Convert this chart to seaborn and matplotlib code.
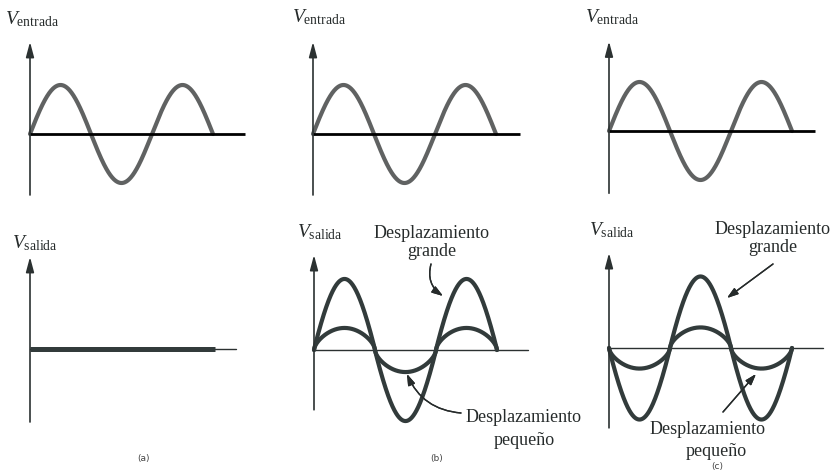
import numpy as np
import matplotlib
matplotlib.use("Agg")
import matplotlib.pyplot as plt
from matplotlib.transforms import Affine2D
import seaborn as sns

sns.set_theme(style="white")
plt.rcParams["font.family"] = ["Liberation Serif", "DejaVu Serif"]
plt.rcParams["mathtext.fontset"] = "custom"
plt.rcParams["mathtext.rm"] = "Liberation Serif"
plt.rcParams["mathtext.it"] = "Liberation Serif:italic"

# ---- signal parameters (amplitude in volts, length in cycles) ----
panel_tags = ["(a)", "(b)", "(c)"]
input_amp = [1.0, 1.0, 1.0]
input_cycles = [1.5, 1.5, 1.5]
out_large_amp = [0.0, 1.45, -1.46]
out_small_amp = [0.0, 0.45, -0.42]
out_cycles = [1.52, 1.5, 1.5]
small_shape = 0.6          # flattening exponent of the small-shift response
large_shape = 0.95

in_label = r"$V_{\mathrm{entrada}}$"
out_label = r"$V_{\mathrm{salida}}$"
big_text = "Desplazamiento\ngrande"
small_text = "Desplazamiento"
small_text2 = "pequeño"

# ---- layout (pixels) ----
W, H = 834, 476
SX, SY = 122.0, 49.0                        # px per cycle, px per volt
top_origin = [(30, 134), (313, 134), (609, 131)]
bot_origin = [(30, 349), (314, 350), (609, 348)]
top_vaxis = [(-1.245, 1.88), (-1.245, 1.88), (-1.27, 1.83)]
bot_vaxis = [(-1.49, 1.88), (-1.22, 1.94), (-1.63, 1.94)]
top_haxis = [1.76, 1.70, 1.69]
bot_haxis = [1.69, 1.75, 1.75]

fig = plt.figure(figsize=(W / 100, H / 100), dpi=100)
fig.patch.set_facecolor("white")
PX = Affine2D().scale(1, -1).translate(0, H)   # top-down pixel coords

IN_COLOR = "#606262"
OUT_COLOR = "#323b3b"
AX_COLOR = "#2b3131"


def make_axes(ox, oy, xlo=-0.1, xhi=1.9, ylo=-1.8, yhi=2.1):
    rect = [(ox + xlo * SX) / W, (H - (oy - ylo * SY)) / H,
            (xhi - xlo) * SX / W, (yhi - ylo) * SY / H]
    ax = fig.add_axes(rect)
    ax.set_xlim(xlo, xhi)
    ax.set_ylim(ylo, yhi)
    ax.axis("off")
    return ax


def wave(amp, cycles, shape=1.0, n=600):
    t = np.linspace(0, cycles, n)
    s = np.sin(2 * np.pi * t)
    return t, amp * np.sign(s) * np.abs(s) ** shape


def vertical_axis(ax, lo, hi):
    ax.annotate("", xy=(0, hi), xytext=(0, lo), annotation_clip=False,
                arrowprops=dict(arrowstyle="-|>,head_length=0.75,head_width=0.2",
                                lw=1.2, color=AX_COLOR, shrinkA=0, shrinkB=0))


# ---- input row ----
for i, (ox, oy) in enumerate(top_origin):
    ax = make_axes(ox, oy)
    t, v = wave(input_amp[i], input_cycles[i])
    sns.lineplot(x=t, y=v, ax=ax, color=IN_COLOR, lw=3.0, sort=False,
                 estimator=None, solid_capstyle="round", zorder=2)
    ax.plot([0, top_haxis[i]], [0, 0], color="black", lw=2.0, zorder=3,
            solid_capstyle="butt", clip_on=False)
    vertical_axis(ax, *top_vaxis[i])

# ---- output row ----
for i, (ox, oy) in enumerate(bot_origin):
    ax = make_axes(ox, oy)
    ax.plot([0, bot_haxis[i]], [0, 0], color=AX_COLOR, lw=1.0, zorder=1,
            clip_on=False)
    if i == 0:
        ax.plot([0, out_cycles[i]], [0, 0], color=OUT_COLOR, lw=3.6,
                zorder=2, solid_capstyle="butt")
    else:
        for amp, shp in ((out_large_amp[i], large_shape),
                         (out_small_amp[i], small_shape)):
            t, v = wave(amp, out_cycles[i], shp)
            sns.lineplot(x=t, y=v, ax=ax, color=OUT_COLOR, lw=3.0, sort=False,
                         estimator=None, solid_capstyle="round", zorder=2)
    vertical_axis(ax, *bot_vaxis[i])

# ---- axis labels ----
TXT = "#262b2b"
for (x, y) in [(5, 24), (292, 22), (585, 22)]:
    fig.text(x, y, in_label, transform=PX, fontsize=14, color=TXT,
             ha="left", va="baseline")
for (x, y) in [(12, 248), (297, 237), (589, 235)]:
    fig.text(x, y, out_label, transform=PX, fontsize=14, color=TXT,
             ha="left", va="baseline")

# ---- panel tags ----
for tag, (x, y) in zip(panel_tags, [(143, 461), (437, 461), (717, 469)]):
    fig.text(x, y, tag, transform=PX, fontsize=6.5, color="#444444",
             ha="center", va="baseline", family="DejaVu Sans")

# ---- annotations ----
ann = dict(fontsize=13, color=TXT, linespacing=1.05)
fig.text(432, 256, big_text, transform=PX, ha="center", va="baseline",
         multialignment="center", **ann)
fig.text(524, 422, small_text, transform=PX, ha="center", va="baseline", **ann)
fig.text(524, 445, small_text2, transform=PX, ha="center", va="baseline", **ann)
fig.text(773, 252, big_text, transform=PX, ha="center", va="baseline",
         multialignment="center", **ann)
fig.text(708, 434, small_text, transform=PX, ha="center", va="baseline", **ann)
fig.text(716, 456, small_text2, transform=PX, ha="center", va="baseline", **ann)

arrow = dict(arrowstyle="-|>,head_length=0.55,head_width=0.18", lw=1.0,
             color=TXT, shrinkA=0, shrinkB=0)
fig.add_artist(plt.annotate("", xy=(443, 296), xycoords=PX, xytext=(431, 264),
                            textcoords=PX,
                            arrowprops=dict(connectionstyle="arc3,rad=0.35", **arrow)))
fig.add_artist(plt.annotate("", xy=(407, 374), xycoords=PX, xytext=(461, 413),
                            textcoords=PX,
                            arrowprops=dict(connectionstyle="arc3,rad=-0.3", **arrow)))
fig.add_artist(plt.annotate("", xy=(727, 298), xycoords=PX, xytext=(773, 264),
                            textcoords=PX, arrowprops=dict(**arrow)))
fig.add_artist(plt.annotate("", xy=(756, 374), xycoords=PX, xytext=(723, 412),
                            textcoords=PX, arrowprops=dict(**arrow)))

fig.savefig("out.png", dpi=100, facecolor="white")
